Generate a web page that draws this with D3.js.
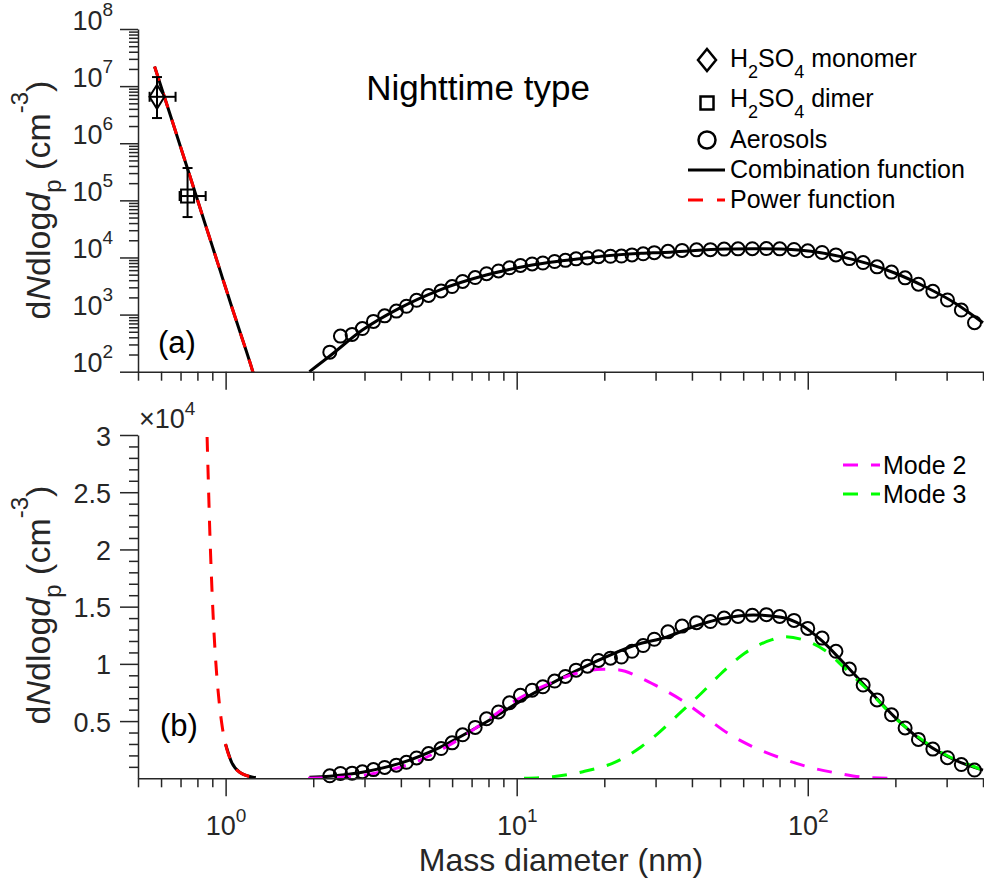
<!DOCTYPE html>
<html>
<head>
<meta charset="utf-8">
<script src="https://cdn.jsdelivr.net/npm/d3@7"></script>
<style>
body { margin: 0; background: #fff; }
svg { font-family: "Liberation Sans", Arial, Helvetica, sans-serif; }
</style>
</head>
<body>
<svg id="canvas" width="984" height="882"></svg>
<script>
// aerosol size distribution, mass diameter (nm) vs dN/dlogdp (cm^-3)
let aeroX = [2.28, 2.48, 2.72, 2.95, 3.22, 3.52, 3.86, 4.18, 4.53, 4.98, 5.50, 6.00, 6.52, 7.20, 7.88, 8.66, 9.45, 10.3, 11.3, 12.3, 13.5, 14.7, 16.0, 17.5, 19.1, 21.0, 22.9, 24.9, 27.2, 29.7, 33.1, 37.0, 41.5, 46.3, 51.6, 57.6, 64.5, 72.1, 80.1, 89.7, 100, 112, 125, 139, 155, 173, 194, 216, 240, 269, 302, 337, 374]
let aeroY = [220, 420, 450, 570, 760, 950, 1150, 1400, 1780, 2160, 2600, 3100, 3800, 4450, 5200, 5800, 6600, 7250, 7700, 8000, 8500, 8900, 9450, 9800, 10300, 10500, 10600, 11100, 11600, 12150, 12800, 13300, 13600, 13700, 14000, 14150, 14250, 14300, 14150, 13800, 13100, 12250, 11100, 9550, 8150, 6850, 5550, 4400, 3400, 2550, 1800, 1200, 720]

// combination function (aerosol part)
let combX = [1.94, 2.28, 2.95, 3.96, 5.43, 7.86, 11.3, 17.3, 26.8, 32, 41, 52, 65, 81, 95, 111, 130, 161, 199, 252, 320, 400]
let combY = [100, 188, 536, 1300, 2690, 4920, 7360, 9800, 11800, 12260, 13300, 14000, 14270, 14070, 13400, 12090, 10340, 7800, 5350, 3100, 1600, 720]

// power function
let powX = [0.57, 0.65, 0.75, 0.85, 0.875, 0.9, 0.925, 0.95, 0.975, 1.0, 1.05, 1.12, 1.24, 1.27]
let powY = [2.2e7, 2.8e6, 2.9e5, 3.9e4, 2.47e4, 1.58e4, 1.02e4, 6.7e3, 4.4e3, 2.95e3, 1.36e3, 500, 100, 66]

let mode2X = [1.92, 2.67, 3.47, 4.52, 5.88, 7.65, 9.96, 13.0, 16.9, 19.8, 22.5, 26.8, 29.8, 36.8, 44.3, 53.2, 64.0, 81.2, 100, 127, 157, 203]
let mode2Y = [0, 140, 580, 1450, 2910, 4810, 6840, 8300, 9320, 9530, 9470, 8740, 8160, 6840, 5380, 3930, 2820, 1750, 1010, 440, 90, 0]

let mode3X = [10.6, 13.3, 16.9, 22.0, 26.8, 30.6, 36.8, 43.1, 50.5, 60.7, 75.0, 83.3, 95.1, 114, 134, 161, 199, 246, 303, 374, 400]
let mode3Y = [0, 140, 580, 1450, 2760, 3930, 5820, 7430, 9180, 10930, 12090, 12380, 12150, 11220, 9620, 7700, 5300, 3400, 1950, 1010, 700]

// H2SO4 monomer and dimer with error bars
let clusterX = [0.581, 0.740]
let clusterY = [6.5e6, 1.19e5]
let clusterXLo = [0.548, 0.695]
let clusterXHi = [0.673, 0.854]
let clusterYLo = [2.76e6, 5.1e4]
let clusterYHi = [1.44e7, 3.68e5]

let xMajor = [1, 10, 100]
let yTopMajor = [1e2, 1e3, 1e4, 1e5, 1e6, 1e7, 1e8]
let yBotMajor = [5000, 10000, 15000, 20000, 25000, 30000]
let yBotLabels = ['0.5', '1', '1.5', '2', '2.5', '3']

let svg = d3.select('#canvas')
let ink = '#262626'

let x = d3.scaleLog().domain([0.5, 400]).range([138, 983])
let yTop = d3.scaleLog().domain([1e2, 1e8]).range([371.7, 29])
let yBot = d3.scaleLinear().domain([0, 3e4]).range([778.3, 435])

let xMinor = []
let yTopMinor = []
;[0.1, 1, 10, 100].forEach(dec => {
    for (let k = 2; k <= 9; k++) {
        let v = dec * k
        if (v >= 0.5 && v <= 400) xMinor.push(v)
    }
})
;[1e2, 1e3, 1e4, 1e5, 1e6, 1e7].forEach(dec => {
    for (let k = 2; k <= 9; k++) yTopMinor.push(dec * k)
})
let yBotMinor = d3.range(1000, 30000, 1000).filter(v => v % 5000 !== 0)

// text with sub/superscripts
let rich = (text, parts) => {
    let cur = 0
    parts.forEach(p => {
        let s = p.s || 0
        let ts = text.append('tspan').text(p.t).attr('dy', s - cur)
        if (p.fs) ts.attr('font-size', p.fs)
        if (p.it) ts.attr('font-style', 'italic')
        cur = s
    })
    return text
}

let styleAxis = (g) => {
    g.attr('font-family', null).attr('font-size', 27).attr('color', ink)
    g.selectAll('line,path').attr('stroke-width', 1.5)
}

// clip paths
let defs = svg.append('defs')
defs.append('clipPath').attr('id', 'clipTop').append('rect')
    .attr('x', 138).attr('y', 29).attr('width', 846).attr('height', 343)
defs.append('clipPath').attr('id', 'clipBot').append('rect')
    .attr('x', 138).attr('y', 435).attr('width', 846).attr('height', 344)

let pts = (xs, ys) => xs.map((d, i) => [d, ys[i]])

// ---------- panel (a) ----------
let lineTop = d3.line().x(d => x(d[0])).y(d => yTop(d[1])).curve(d3.curveMonotoneX)
let topG = svg.append('g').attr('clip-path', 'url(#clipTop)')

topG.append('path').attr('d', lineTop(pts(combX, combY)))
   .attr('fill', 'none').attr('stroke', '#000').attr('stroke-width', 3)
topG.append('path').attr('d', lineTop(pts(powX, powY)))
   .attr('fill', 'none').attr('stroke', '#000').attr('stroke-width', 3)
topG.append('path').attr('d', lineTop(pts(powX, powY)))
   .attr('fill', 'none').attr('stroke', '#ff0000').attr('stroke-width', 3)
   .attr('stroke-dasharray', '15,13')

svg.append('g').selectAll('circle')
   .data(pts(aeroX, aeroY))
   .enter()
   .append('circle')
   .attr('cx', d => x(d[0]))
   .attr('cy', d => yTop(d[1]))
   .attr('r', 6.5)
   .attr('fill', 'none').attr('stroke', '#000').attr('stroke-width', 2)

// error bars
let eb = svg.append('g').attr('stroke', '#000').attr('stroke-width', 2)
clusterX.forEach((cx, i) => {
    let px = x(cx), py = yTop(clusterY[i])
    let y1 = yTop(clusterYHi[i]), y2 = yTop(clusterYLo[i])
    let x1 = x(clusterXLo[i]), x2 = x(clusterXHi[i])
    eb.append('line').attr('x1', px).attr('x2', px).attr('y1', y1).attr('y2', y2)
    eb.append('line').attr('x1', px - 5).attr('x2', px + 5).attr('y1', y1).attr('y2', y1)
    eb.append('line').attr('x1', px - 5).attr('x2', px + 5).attr('y1', y2).attr('y2', y2)
    eb.append('line').attr('x1', x1).attr('x2', x2).attr('y1', py).attr('y2', py)
    eb.append('line').attr('x1', x1).attr('x2', x1).attr('y1', py - 5).attr('y2', py + 5)
    eb.append('line').attr('x1', x2).attr('x2', x2).attr('y1', py - 5).attr('y2', py + 5)
})
let diamond = (cx, cy, w, h) => `M${cx},${cy - h}L${cx + w},${cy}L${cx},${cy + h}L${cx - w},${cy}Z`
svg.append('path').attr('d', diamond(x(clusterX[0]), yTop(clusterY[0]), 7.5, 12))
   .attr('fill', 'none').attr('stroke', '#000').attr('stroke-width', 2)
svg.append('rect')
   .attr('x', x(clusterX[1]) - 6.5).attr('y', yTop(clusterY[1]) - 6.5)
   .attr('width', 13).attr('height', 13)
   .attr('fill', 'none').attr('stroke', '#000').attr('stroke-width', 2)

// axes (a)
let gx1 = svg.append('g').attr('transform', 'translate(0,371.7)')
    .call(d3.axisBottom(x).tickValues(xMajor).tickSize(18).tickSizeOuter(0).tickFormat(''))
let gx1m = svg.append('g').attr('transform', 'translate(0,371.7)')
    .call(d3.axisBottom(x).tickValues(xMinor).tickSize(9).tickSizeOuter(0).tickFormat(''))
gx1m.select('.domain').remove()

let gy1 = svg.append('g').attr('transform', 'translate(138,0)')
    .call(d3.axisLeft(yTop).tickValues(yTopMajor).tickSize(18).tickSizeOuter(0).tickPadding(7).tickFormat(''))
let gy1m = svg.append('g').attr('transform', 'translate(138,0)')
    .call(d3.axisLeft(yTop).tickValues(yTopMinor).tickSize(9).tickSizeOuter(0).tickFormat(''))
gy1m.select('.domain').remove()
;[gx1, gx1m, gy1, gy1m].forEach(styleAxis)

gy1.selectAll('.tick text').attr('dy', 17).each(function (d) {
    rich(d3.select(this), [{ t: '10' }, { t: Math.round(Math.log10(d)), s: -14, fs: 19 }])
})

// ---------- panel (b) ----------
let lineBot = d3.line().x(d => x(d[0])).y(d => yBot(d[1])).curve(d3.curveMonotoneX)
let botG = svg.append('g').attr('clip-path', 'url(#clipBot)')

botG.append('path').attr('d', lineBot(pts(powX, powY).filter(d => d[0] >= 1.0)))
   .attr('fill', 'none').attr('stroke', '#000').attr('stroke-width', 3)
botG.append('path').attr('d', lineBot(pts(combX, combY)))
   .attr('fill', 'none').attr('stroke', '#000').attr('stroke-width', 3)
botG.append('path').attr('d', lineBot(pts(powX, powY)))
   .attr('fill', 'none').attr('stroke', '#ff0000').attr('stroke-width', 3)
   .attr('stroke-dasharray', '15,13')
botG.append('path').attr('d', lineBot(pts(mode2X, mode2Y)))
   .attr('fill', 'none').attr('stroke', '#ff00ff').attr('stroke-width', 3)
   .attr('stroke-dasharray', '15,13')
botG.append('path').attr('d', lineBot(pts(mode3X, mode3Y)))
   .attr('fill', 'none').attr('stroke', '#00ff00').attr('stroke-width', 3)
   .attr('stroke-dasharray', '15,13')

svg.append('g').selectAll('circle')
   .data(pts(aeroX, aeroY))
   .enter()
   .append('circle')
   .attr('cx', d => x(d[0]))
   .attr('cy', d => yBot(d[1]))
   .attr('r', 6.5)
   .attr('fill', 'none').attr('stroke', '#000').attr('stroke-width', 2)

// axes (b)
let gx2 = svg.append('g').attr('transform', 'translate(0,778.3)')
    .call(d3.axisBottom(x).tickValues(xMajor).tickSize(18).tickSizeOuter(0).tickFormat(''))
let gx2m = svg.append('g').attr('transform', 'translate(0,778.3)')
    .call(d3.axisBottom(x).tickValues(xMinor).tickSize(9).tickSizeOuter(0).tickFormat(''))
gx2m.select('.domain').remove()

let gy2 = svg.append('g').attr('transform', 'translate(138,0)')
    .call(d3.axisLeft(yBot).tickValues(yBotMajor).tickSize(18).tickSizeOuter(0).tickPadding(9)
        .tickFormat((d, i) => yBotLabels[i]))
let gy2m = svg.append('g').attr('transform', 'translate(138,0)')
    .call(d3.axisLeft(yBot).tickValues(yBotMinor).tickSize(9).tickSizeOuter(0).tickFormat(''))
gy2m.select('.domain').remove()
;[gx2, gx2m, gy2, gy2m].forEach(styleAxis)
gy2.selectAll('.tick text').attr('dy', 10)

gx2.selectAll('.tick text').attr('y', 57).attr('dy', 0).each(function (d) {
    rich(d3.select(this), [{ t: '10' }, { t: Math.round(Math.log10(d)), s: -13, fs: 19 }])
})

// x10^4 exponent label
rich(svg.append('text').attr('x', 139).attr('y', 428).attr('font-size', 27).attr('fill', ink),
    [{ t: '\u00d710' }, { t: '4', s: -13, fs: 19 }])

// ---------- labels ----------
let yLabel = (cy) => {
    let t = svg.append('text')
        .attr('transform', `translate(50,${cy}) rotate(-90)`)
        .attr('text-anchor', 'middle').attr('font-size', 34).attr('fill', ink)
    rich(t, [{ t: 'd' }, { t: 'N', it: 1 }, { t: 'dlog' }, { t: 'd', it: 1 },
             { t: 'p', s: 11, fs: 24 }, { t: ' (cm', s: 0 }, { t: '-3', s: -22, fs: 24 }, { t: ')', s: 0 }])
}
yLabel(200)
yLabel(605)

svg.append('text').attr('x', 561).attr('y', 871).attr('text-anchor', 'middle')
   .attr('font-size', 32).attr('fill', ink).text('Mass diameter (nm)')
svg.append('text').attr('x', 478).attr('y', 100).attr('text-anchor', 'middle')
   .attr('font-size', 35).attr('fill', '#000').text('Nighttime type')
svg.append('text').attr('x', 158).attr('y', 353).attr('font-size', 31).attr('fill', '#000').text('(a)')
svg.append('text').attr('x', 160).attr('y', 736).attr('font-size', 31).attr('fill', '#000').text('(b)')

// ---------- legends ----------
let leg = svg.append('g').attr('font-size', 25).attr('fill', '#000')
let lx = 730
leg.append('path').attr('d', diamond(707, 60, 9, 11))
   .attr('fill', 'none').attr('stroke', '#000').attr('stroke-width', 2.5)
rich(leg.append('text').attr('x', lx).attr('y', 67),
    [{ t: 'H' }, { t: '2', s: 11, fs: 18 }, { t: 'SO', s: 0 }, { t: '4', s: 11, fs: 18 }, { t: ' monomer', s: 0 }])
leg.append('rect').attr('x', 700.5).attr('y', 96.5).attr('width', 13).attr('height', 13)
   .attr('fill', 'none').attr('stroke', '#000').attr('stroke-width', 2.5)
rich(leg.append('text').attr('x', lx).attr('y', 107),
    [{ t: 'H' }, { t: '2', s: 11, fs: 18 }, { t: 'SO', s: 0 }, { t: '4', s: 11, fs: 18 }, { t: ' dimer', s: 0 }])
leg.append('circle').attr('cx', 707).attr('cy', 140).attr('r', 8.5)
   .attr('fill', 'none').attr('stroke', '#000').attr('stroke-width', 2.5)
leg.append('text').attr('x', lx).attr('y', 148).text('Aerosols')
leg.append('line').attr('x1', 688).attr('x2', 725).attr('y1', 170).attr('y2', 170)
   .attr('stroke', '#000').attr('stroke-width', 3)
leg.append('text').attr('x', lx).attr('y', 178).text('Combination function')
leg.append('line').attr('x1', 688).attr('x2', 725).attr('y1', 200).attr('y2', 200)
   .attr('stroke', '#ff0000').attr('stroke-width', 3).attr('stroke-dasharray', '15,14')
leg.append('text').attr('x', lx).attr('y', 208).text('Power function')

leg.append('line').attr('x1', 843).attr('x2', 880).attr('y1', 465).attr('y2', 465)
   .attr('stroke', '#ff00ff').attr('stroke-width', 3).attr('stroke-dasharray', '15,13')
leg.append('text').attr('x', 883).attr('y', 474).text('Mode 2')
leg.append('line').attr('x1', 843).attr('x2', 880).attr('y1', 494).attr('y2', 494)
   .attr('stroke', '#00ff00').attr('stroke-width', 3).attr('stroke-dasharray', '15,13')
leg.append('text').attr('x', 883).attr('y', 503).text('Mode 3')
</script>
</body>
</html>
